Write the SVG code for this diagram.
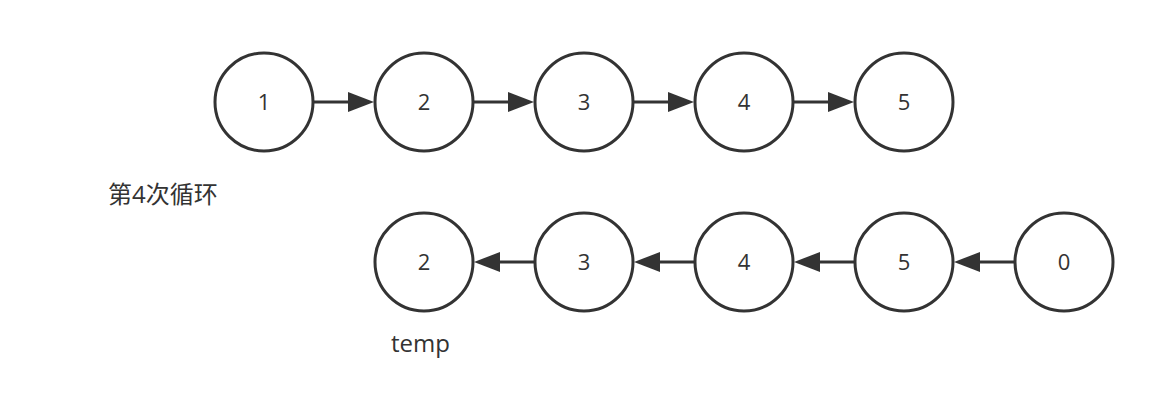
<svg xmlns="http://www.w3.org/2000/svg" width="1164" height="420" viewBox="0 0 1164 420">
<style>
.n{fill:#fff;stroke:#333;stroke-width:3}
.t{font-family:"Open Sans","Noto Sans CJK SC",sans-serif;font-size:22px;fill:#333;text-anchor:middle}
.l{font-family:"Open Sans","Noto Sans CJK SC",sans-serif;font-size:24px;fill:#333}
.e{stroke:#333;stroke-width:3;fill:none}
.h{fill:#333}
</style>
<rect width="1164" height="420" fill="#fff"/>
<g id="connectors">
<line class="e" x1="314" y1="102" x2="350" y2="102"/><polygon class="h" points="348,92 374,102 348,112"/>
<line class="e" x1="474" y1="102" x2="510" y2="102"/><polygon class="h" points="508,92 534,102 508,112"/>
<line class="e" x1="634" y1="102" x2="670" y2="102"/><polygon class="h" points="668,92 694,102 668,112"/>
<line class="e" x1="794" y1="102" x2="830" y2="102"/><polygon class="h" points="828,92 854,102 828,112"/>
<line class="e" x1="534" y1="262" x2="498" y2="262"/><polygon class="h" points="500,252 474,262 500,272"/>
<line class="e" x1="694" y1="262" x2="658" y2="262"/><polygon class="h" points="660,252 634,262 660,272"/>
<line class="e" x1="854" y1="262" x2="818" y2="262"/><polygon class="h" points="820,252 794,262 820,272"/>
<line class="e" x1="1014" y1="262" x2="978" y2="262"/><polygon class="h" points="980,252 954,262 980,272"/>
</g>
<g id="a1"><circle class="n" cx="264" cy="102" r="49"/><text class="t" x="264" y="110">1</text></g>
<g id="a2"><circle class="n" cx="424" cy="102" r="49"/><text class="t" x="424" y="110">2</text></g>
<g id="a3"><circle class="n" cx="584" cy="102" r="49"/><text class="t" x="584" y="110">3</text></g>
<g id="a4"><circle class="n" cx="744" cy="102" r="49"/><text class="t" x="744" y="110">4</text></g>
<g id="a5"><circle class="n" cx="904" cy="102" r="49"/><text class="t" x="904" y="110">5</text></g>
<g id="b2"><circle class="n" cx="424" cy="262" r="49"/><text class="t" x="424" y="270">2</text></g>
<g id="b3"><circle class="n" cx="584" cy="262" r="49"/><text class="t" x="584" y="270">3</text></g>
<g id="b4"><circle class="n" cx="744" cy="262" r="49"/><text class="t" x="744" y="270">4</text></g>
<g id="b5"><circle class="n" cx="904" cy="262" r="49"/><text class="t" x="904" y="270">5</text></g>
<g id="b0"><circle class="n" cx="1064" cy="262" r="49"/><text class="t" x="1064" y="270">0</text></g>
<g id="label1"><text class="l" x="108" y="203">第4次循环</text></g>
<g id="label2"><text class="l" x="391" y="352">temp</text></g>
</svg>
